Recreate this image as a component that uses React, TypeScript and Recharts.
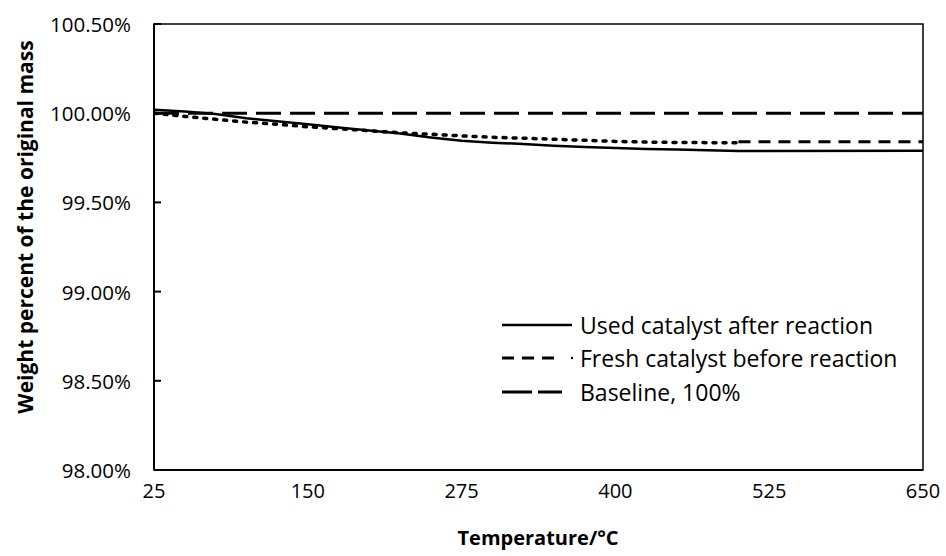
import React from 'react';
import { LineChart, Line, XAxis, YAxis, Legend, ReferenceArea } from 'recharts';

// Heating ramp readings (°C) and weight percent for both samples
const rampTemps = [25, 50, 75, 100, 125, 150, 175, 200, 225, 250, 275, 300, 325, 350, 375, 400, 425, 450, 475, 500];
const usedRamp = [100.02, 100.01, 99.995, 99.972, 99.955, 99.938, 99.92, 99.903, 99.886, 99.864, 99.845, 99.835, 99.827, 99.818, 99.81, 99.805, 99.8, 99.797, 99.792, 99.788];
const freshRamp = [100.0, 99.982, 99.966, 99.95, 99.938, 99.924, 99.913, 99.902, 99.89, 99.882, 99.873, 99.865, 99.86, 99.854, 99.848, 99.842, 99.838, 99.836, 99.835, 99.834];

// Hold section after 500 °C
const holdTemps = [500, 650];
const usedHold = [99.79, 99.79];
const freshHold = [99.84, 99.84];

const baselineTemps = [25, 650];
const baselineWeight = [100, 100];

const xTicks = [25, 150, 275, 400, 525, 650];
const yTicks = [98, 98.5, 99, 99.5, 100, 100.5];

const FONT = '"Open Sans", "Noto Sans", sans-serif';

const usedData = [
  ...rampTemps.map((t, i) => ({ t, w: usedRamp[i] })),
  ...holdTemps.slice(1).map((t, i) => ({ t, w: usedHold[i + 1] })),
];
const freshRampData = rampTemps.map((t, i) => ({ t, w: freshRamp[i] }));
const freshHoldData = holdTemps.map((t, i) => ({ t, w: freshHold[i] }));
const baselineData = baselineTemps.map((t, i) => ({ t, w: baselineWeight[i] }));

const YTick = (props: any) => {
  const { x, y, payload } = props;
  return (
    <g>
      <line x1={x + 23} x2={x + 30} y1={y} y2={y} stroke="#000" strokeWidth={2} />
      <text x={x} y={y} textAnchor="end" dominantBaseline="central" fontFamily={FONT} fontSize={20.5} fill="#000">
        {payload.value.toFixed(2)}%
      </text>
    </g>
  );
};

const YTitle = () => (
  <text
    x={25}
    y={227}
    transform="rotate(-90 25 227)"
    textAnchor="middle"
    dominantBaseline="central"
    fontFamily={FONT}
    fontWeight="bold"
    fontSize={21}
    fill="#000"
  >
    Weight percent of the original mass
  </text>
);

const XTitle = () => (
  <text x={538} y={537} textAnchor="middle" dominantBaseline="central" fontFamily={FONT} fontWeight="bold" fontSize={20} fill="#000">
    Temperature/°C
  </text>
);

const legendItems = [
  { name: 'Used catalyst after reaction', kind: 'solid' },
  { name: 'Fresh catalyst before reaction', kind: 'dash' },
  { name: 'Baseline, 100%', kind: 'long' },
];

const renderLegend = () => (
  <div style={{ fontFamily: FONT, fontSize: 23, color: '#000' }}>
    {legendItems.map((item) => (
      <div key={item.name} style={{ display: 'flex', alignItems: 'center', height: 33.5 }}>
        <svg width={78} height={12} style={{ flex: 'none' }}>
          {item.kind === 'solid' && <line x1={0} x2={70} y1={6} y2={6} stroke="#000" strokeWidth={2.5} />}
          {item.kind === 'dash' && (
            <>
              <line x1={0} x2={56} y1={6} y2={6} stroke="#000" strokeWidth={3} strokeDasharray="12 8" />
              <circle cx={70} cy={6} r={1.2} fill="#000" />
            </>
          )}
          {item.kind === 'long' && <line x1={0} x2={60} y1={6} y2={6} stroke="#000" strokeWidth={3} strokeDasharray="30 6" />}
        </svg>
        <span style={{ whiteSpace: 'nowrap' }}>{item.name}</span>
      </div>
    ))}
  </div>
);

export default function App() {
  return (
    <div style={{ position: 'absolute', left: 0, top: 0, width: 946, height: 556, background: '#fff' }}>
      <LineChart width={946} height={556} margin={{ top: 24, right: 23, bottom: 0, left: 0 }}>
        <ReferenceArea x1={25} x2={650} y1={98} y2={100.5} fill="none" stroke="#000" strokeWidth={1.5} ifOverflow="visible" />
        <XAxis
          dataKey="t"
          type="number"
          domain={[25, 650]}
          ticks={xTicks}
          allowDataOverflow
          height={86}
          tickLine={false}
          tickSize={0}
          tickMargin={14}
          axisLine={{ stroke: '#000', strokeWidth: 2 }}
          tick={{ fontFamily: FONT, fontSize: 20, fill: '#000' }}
          label={<XTitle />}
        />
        <YAxis
          type="number"
          domain={[98, 100.5]}
          ticks={yTicks}
          allowDataOverflow
          width={154}
          tickLine={false}
          tickSize={0}
          tickMargin={23}
          axisLine={{ stroke: '#000', strokeWidth: 2 }}
          tick={<YTick />}
          label={<YTitle />}
        />
        <Line data={baselineData} dataKey="w" stroke="#000" strokeWidth={3} strokeDasharray="25 9" dot={false} isAnimationActive={false} />
        <Line data={usedData} dataKey="w" stroke="#000" strokeWidth={2.5} dot={false} isAnimationActive={false} />
        <Line data={freshRampData} dataKey="w" stroke="#000" strokeWidth={3.5} strokeDasharray="3 7" strokeLinecap="round" dot={false} isAnimationActive={false} />
        <Line data={freshHoldData} dataKey="w" stroke="#000" strokeWidth={3} strokeDasharray="12 8" dot={false} isAnimationActive={false} />
        <Legend layout="vertical" align="center" verticalAlign="middle" wrapperStyle={{ left: 502, top: 308, width: 430 }} content={renderLegend} />
      </LineChart>
    </div>
  );
}
